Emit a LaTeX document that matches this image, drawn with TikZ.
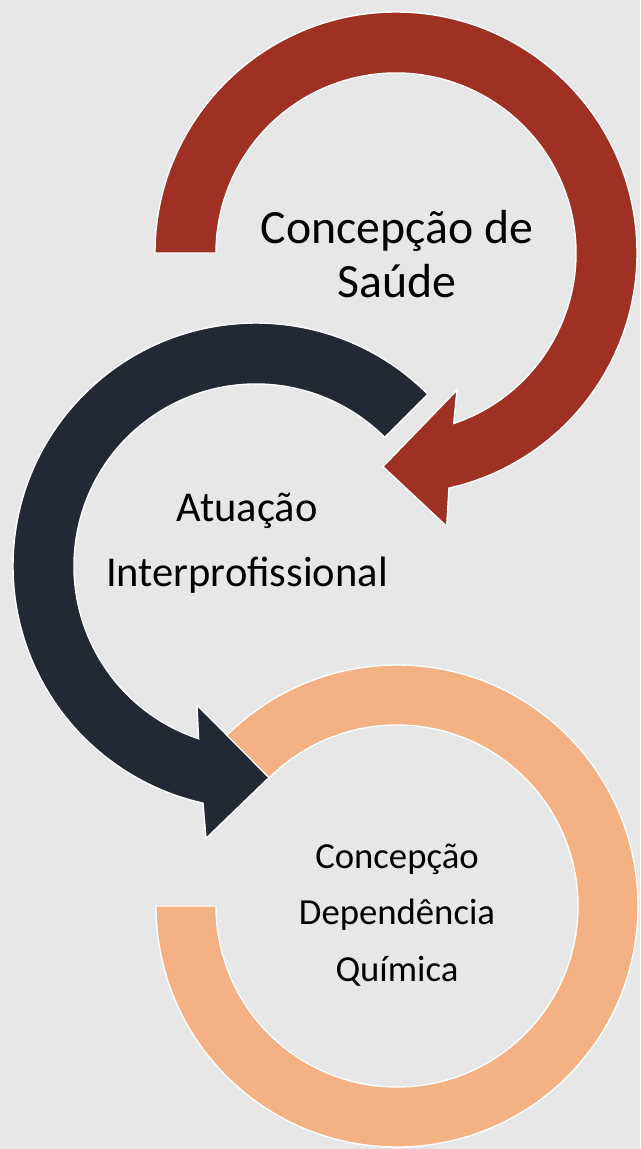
\documentclass[tikz,border=0pt]{standalone}
\usepackage{fontspec}
\setmainfont{Carlito}
\usepackage{xcolor}
\definecolor{Col1}{RGB}{158,48,36}
\definecolor{Col2}{RGB}{34,41,53}
\definecolor{Col3}{RGB}{244,177,131}
\definecolor{Back}{RGB}{231,231,231}
\usepackage{tikz}
\usetikzlibrary{calc}
\tikzstyle{Band}=[draw=white,line width=.8pt,line join=miter]
\tikzstyle{NodeST}=[align=center,inner sep=0pt,text=black]

\begin{document}
\begin{tikzpicture}[x=.02cm,y=-.02cm]
        \useasboundingbox(0,0)rectangle(640,1149);
        \fill[Back](0,0)rectangle(640,1149);
        \coordinate(c1)at(396,253);
        \coordinate(c2)at(256,566);
        \coordinate(c3)at(397,906);
        % peach ring, its end hidden under the dark head
        \filldraw[Band,fill=Col3]($(c3)+(180:241)$)
            arc[start angle=180,end angle=-135,radius=241]
            --($(c3)+(-135:181)$)
            arc[start angle=-135,end angle=180,radius=181]--cycle;
        % dark arrow
        \filldraw[Band,fill=Col2]($(c2)+(-45:243)$)
            arc[start angle=-45,end angle=-257.4,radius=243]
            --($(c2)+(100.4:277)$)--($(c2)+(86.5:212)$)--($(c2)+(113:151)$)
            --($(c2)+(108.4:182)$)
            arc[start angle=-251.6,end angle=-45,radius=182]--cycle;
        % red arrow
        \filldraw[Band,fill=Col1]($(c1)+(180:241)$)
            arc[start angle=180,end angle=437.3,radius=241]
            --($(c1)+(79.5:278)$)--($(c1)+(93.5:214)$)--($(c1)+(66:150)$)
            --($(c1)+(71.3:180)$)
            arc[start angle=431.3,end angle=180,radius=180]--cycle;
        \node[NodeST,font=\fontsize{27.2}{30.6}\selectfont](1)at(397,254)
            {Concepção de\\Saúde};
        \node[NodeST,font=\fontsize{24.2}{37.2}\selectfont](2)at(247,543)
            {Atuação\\Interprofissional};
        \node[NodeST,font=\fontsize{20.9}{32.2}\selectfont](3)at(397,915)
            {Concepção\\Dependência\\Química};
    \end{tikzpicture}
\end{document}
